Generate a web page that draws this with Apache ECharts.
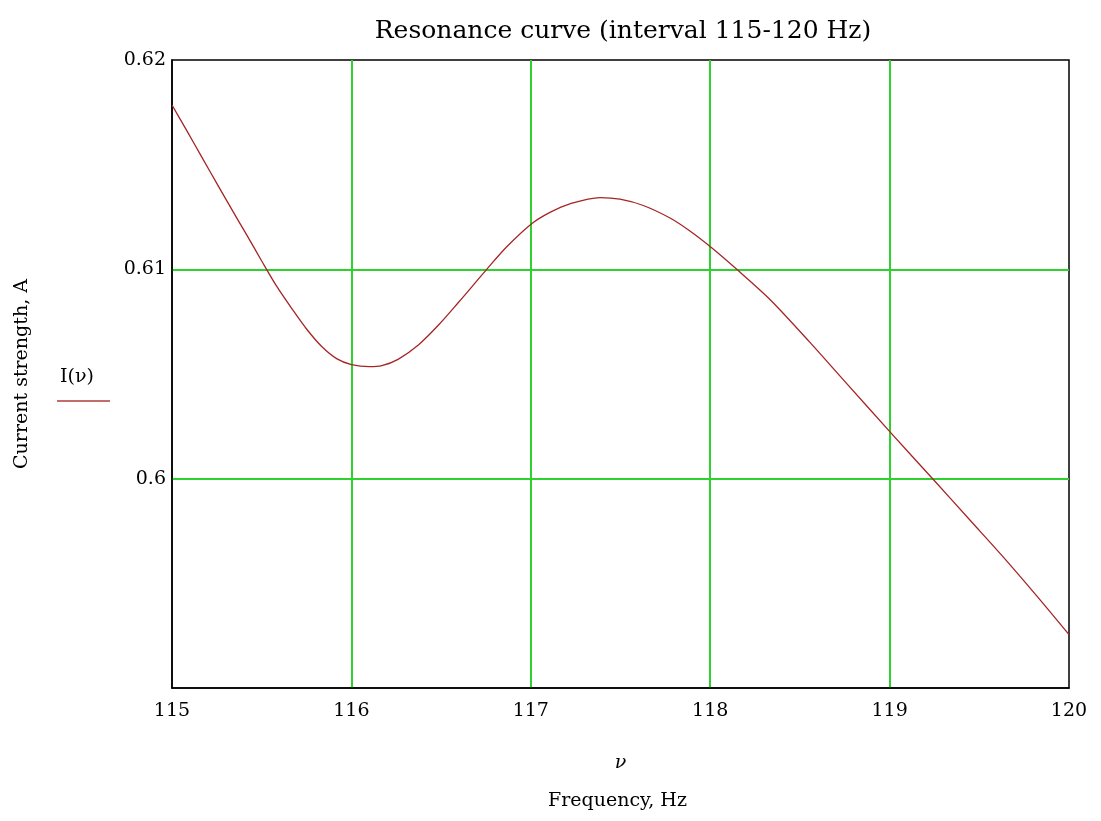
<!DOCTYPE html>
<html>
<head>
<meta charset="utf-8">
<script src="https://cdn.jsdelivr.net/npm/echarts@6/dist/echarts.min.js"></script>
<style>
  html, body { margin: 0; padding: 0; background: #fff; }
  #container { width: 1101px; height: 821px; }
</style>
</head>
<body>
<div id="container"></div>
<script>
// frequency (Hz) and current (A)
var freq = [115.0, 115.084, 115.167, 115.26, 115.334, 115.418, 115.50, 115.585, 115.67, 115.75,
    115.836, 115.92, 116.0, 116.10, 116.17, 116.26, 116.375, 116.487, 116.60, 116.67,
    116.754, 116.866, 117.005, 117.107, 117.218, 117.386, 117.497, 117.627, 117.776, 117.887,
    118.008, 118.148, 118.333, 118.556, 118.76, 119.006, 119.25, 119.45, 119.634, 119.82, 120.0];
var current = [0.61785, 0.61660, 0.61535, 0.61395, 0.61285, 0.61162, 0.61040, 0.60917, 0.60810, 0.60715,
    0.60630, 0.60572, 0.60545, 0.60535, 0.60540, 0.60570, 0.60640, 0.60735, 0.60845, 0.60915,
    0.61, 0.61108, 0.61218, 0.61272, 0.61313, 0.61343, 0.61335, 0.61305, 0.61245, 0.61183,
    0.61103, 0.61, 0.60856, 0.60651, 0.60455, 0.60220, 0.59990, 0.59800, 0.59625, 0.59440, 0.59255];
var yTicks = ['0.6', '0.61', '0.62'];

var serif = '"DejaVu Serif", "Liberation Serif", serif';
var gridGreen = '#2ed12e';

var dom = document.getElementById('container');
var myChart = echarts.init(dom);

var points = freq.map(function(f, i) { return [f, current[i]]; });

var option = {
    backgroundColor: '#fff',
    animation: false,
    title: {
        text: 'Resonance curve (interval 115-120 Hz)',
        left: 618,
        top: 14,
        textAlign: 'center',
        textStyle: { fontFamily: serif, fontSize: 25, fontWeight: 'normal', color: '#000' }
    },
    grid: {
        left: 172, top: 60, right: 32, bottom: 133,
        show: true, borderColor: '#000', borderWidth: 1.5
    },
    xAxis: {
        type: 'value',
        min: 115, max: 120, interval: 1,
        name: 'ν',
        nameLocation: 'middle',
        nameGap: 66,
        nameTextStyle: { fontFamily: serif, fontSize: 19, fontStyle: 'italic', color: '#000' },
        axisLine: { show: true, lineStyle: { color: '#000', width: 1.5 } },
        axisTick: { show: false },
        splitLine: { show: true, showMinLine: false, showMaxLine: false,
            lineStyle: { color: gridGreen, width: 2 } },
        axisLabel: { fontFamily: serif, fontSize: 19, color: '#000', margin: 14 }
    },
    yAxis: {
        type: 'value',
        min: 0.59, max: 0.62, interval: 0.01,
        name: 'Current strength, A',
        nameLocation: 'middle',
        nameGap: 140,
        nameTextStyle: { fontFamily: serif, fontSize: 19, color: '#000' },
        axisLine: { show: true, lineStyle: { color: '#000', width: 1.5 } },
        axisTick: { show: false },
        splitLine: { show: true, showMinLine: false, showMaxLine: false,
            lineStyle: { color: gridGreen, width: 2 } },
        axisLabel: {
            fontFamily: serif, fontSize: 19, color: '#000', margin: 6,
            formatter: function(v) {
                var s = String(+v.toFixed(2));
                return yTicks.indexOf(s) >= 0 ? s : '';
            }
        }
    },
    graphic: [
        {
            type: 'text', left: 548, top: 792,
            style: { text: 'Frequency, Hz', font: '19px ' + serif, fill: '#000' }
        },
        {
            type: 'text', left: 60, top: 368,
            style: { text: 'I(ν)', font: '19px ' + serif, fill: '#000' }
        },
        {
            type: 'line',
            shape: { x1: 57, y1: 401, x2: 110, y2: 401 },
            style: { stroke: '#b03a3a', lineWidth: 1.5 }
        }
    ],
    series: [{
        name: 'I(ν)',
        type: 'line',
        data: points,
        smooth: 0.3,
        showSymbol: false,
        lineStyle: { color: '#a52525', width: 1.3 },
        z: 5
    }]
};

myChart.setOption(option);
</script>
</body>
</html>
